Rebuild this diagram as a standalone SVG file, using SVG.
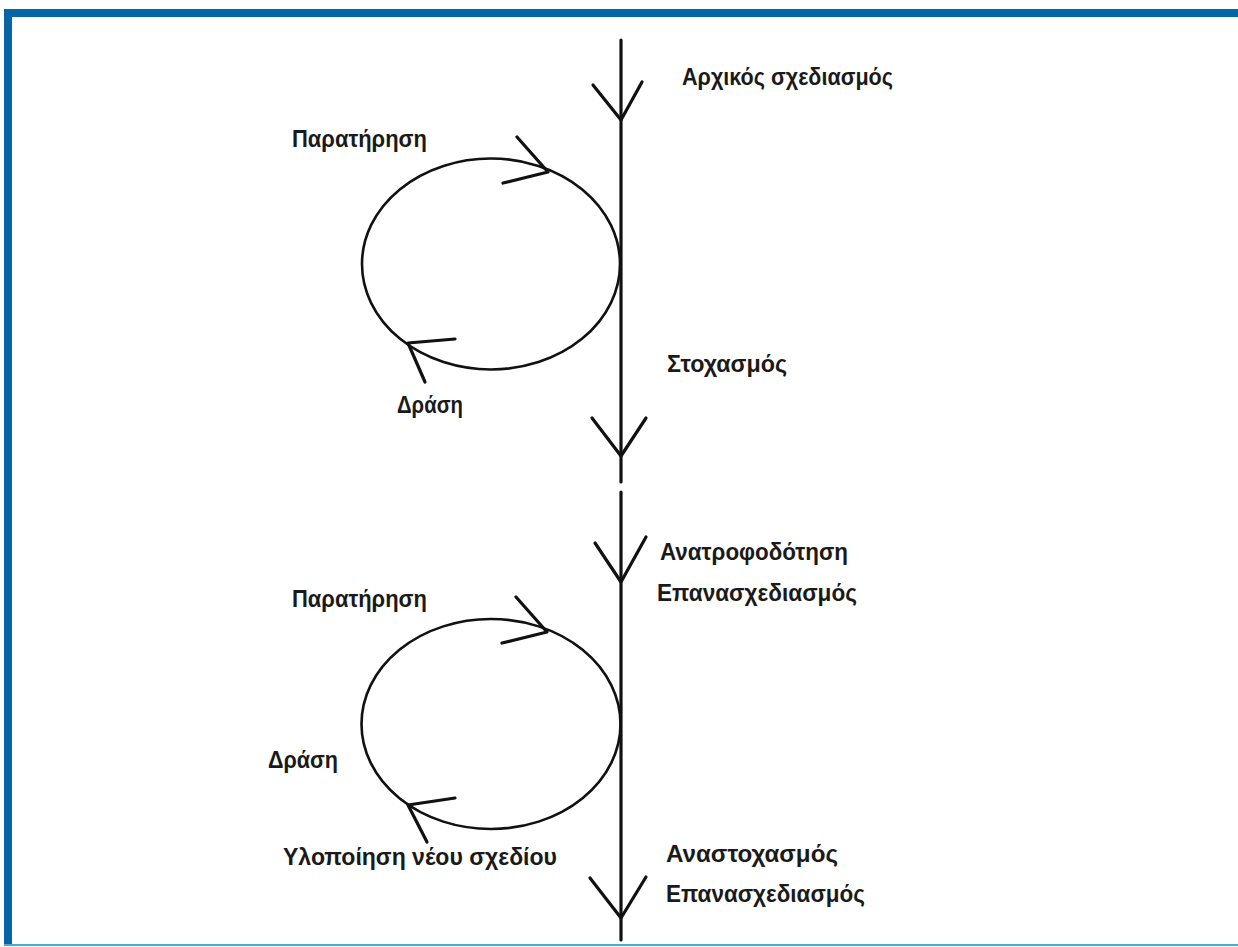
<svg xmlns="http://www.w3.org/2000/svg" width="1238" height="947" viewBox="0 0 1238 947">
<style>
.lbl{font-family:"Liberation Sans",Arial,sans-serif;font-weight:bold;font-size:23px;fill:#1a1a1a}
.ln{fill:none;stroke:#111;stroke-width:3.2;stroke-linecap:round;stroke-linejoin:round}
.cr{fill:none;stroke:#111;stroke-width:2.6}
</style>
<rect x="0" y="0" width="1238" height="947" fill="#fff"/>
<g id="frame">
<rect x="4" y="9" width="1234" height="8" fill="#0565a6"/>
<rect x="4" y="9" width="8" height="937" fill="#0565a6"/>
<rect x="4" y="944" width="1234" height="2" fill="#4aa8d8"/>
</g>
<g id="connectors">
<line class="ln" x1="621" y1="40" x2="621" y2="482"/>
<line class="ln" x1="621" y1="492" x2="621" y2="940"/>
<polyline class="ln" points="593,85 621,120 642,82"/>
<polyline class="ln" points="592,418 621,456 646,418"/>
<polyline class="ln" points="595,543 621,582 646,537"/>
<polyline class="ln" points="590,878 621,918 646,877"/>
<ellipse class="cr" cx="491" cy="264" rx="129" ry="105.5"/>
<polyline class="ln" points="517,137 548,172 503,183"/>
<polyline class="ln" points="455,339 408,343 425,382"/>
<ellipse class="cr" cx="491" cy="724" rx="129.5" ry="105"/>
<polyline class="ln" points="516,597 547,632 502,643"/>
<polyline class="ln" points="455,798 408,805 427,842"/>
</g>
<g id="n-arxikos"><text class="lbl" x="682" y="85" textLength="211" lengthAdjust="spacingAndGlyphs">Αρχικός σχεδιασμός</text></g>
<g id="n-paratirisi1"><text class="lbl" x="292" y="147" textLength="135" lengthAdjust="spacingAndGlyphs">Παρατήρηση</text></g>
<g id="n-stoxasmos"><text class="lbl" x="667" y="372" textLength="120" lengthAdjust="spacingAndGlyphs">Στοχασμός</text></g>
<g id="n-drasi1"><text class="lbl" x="397" y="413" textLength="66" lengthAdjust="spacingAndGlyphs">Δράση</text></g>
<g id="n-anatrofodotisi"><text class="lbl" x="660" y="560" textLength="188" lengthAdjust="spacingAndGlyphs">Ανατροφοδότηση</text></g>
<g id="n-epanasx1"><text class="lbl" x="657" y="601" textLength="200" lengthAdjust="spacingAndGlyphs">Επανασχεδιασμός</text></g>
<g id="n-paratirisi2"><text class="lbl" x="292" y="607" textLength="135" lengthAdjust="spacingAndGlyphs">Παρατήρηση</text></g>
<g id="n-drasi2"><text class="lbl" x="268" y="768" textLength="70" lengthAdjust="spacingAndGlyphs">Δράση</text></g>
<g id="n-ylopoiisi"><text class="lbl" x="283" y="865" textLength="274" lengthAdjust="spacingAndGlyphs">Υλοποίηση νέου σχεδίου</text></g>
<g id="n-anastoxasmos"><text class="lbl" x="666" y="862" textLength="172" lengthAdjust="spacingAndGlyphs">Αναστοχασμός</text></g>
<g id="n-epanasx2"><text class="lbl" x="666" y="902" textLength="199" lengthAdjust="spacingAndGlyphs">Επανασχεδιασμός</text></g>
</svg>
